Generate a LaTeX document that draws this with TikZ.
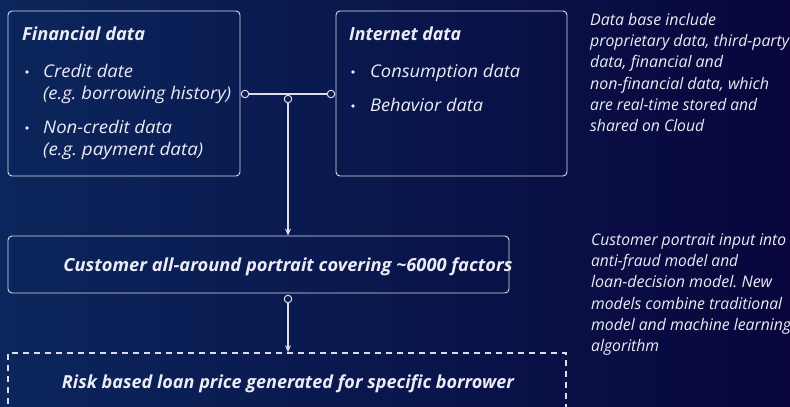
\documentclass[tikz,border=0pt]{standalone}
\usepackage{fontspec}
\usepackage{graphicx}
\setmainfont{Open Sans}
\frenchspacing
\usetikzlibrary{arrows.meta,calc}
\definecolor{bgA}{RGB}{11,38,92}
\definecolor{bgB}{RGB}{8,6,60}
\definecolor{ink}{RGB}{236,236,246}
\definecolor{wire}{RGB}{220,220,234}
% set a line of text to a given width (pt), keeping its height
\newcommand\fitto[2]{\resizebox{#1pt}{\height}{#2}}
\tikzset{
  card/.style={draw=wire,line width=0.9pt,rounded corners=4pt,inner sep=0pt},
  dropbox/.style={draw=wire,line width=1.6pt,dash pattern=on 6pt off 5pt,inner sep=0pt},
  head/.style={text=ink,font=\fontsize{18}{21}\selectfont\bfseries\itshape,anchor=base west,inner sep=0pt},
  item/.style={text=ink,font=\fontsize{17.5}{22}\selectfont\itshape,anchor=base west,inner sep=0pt},
  bul/.style={circle,fill=ink,inner sep=0pt,minimum size=3.6pt},
  note/.style={text=ink,font=\fontsize{16}{21}\selectfont\itshape,anchor=base west,inner sep=0pt},
  lead/.style={text=ink,font=\fontsize{18}{21}\selectfont\bfseries\itshape,anchor=base,inner sep=0pt},
  port/.style={circle,draw=wire,line width=1pt,fill=bgA!70!bgB,inner sep=0pt,minimum size=7.5pt},
  wire/.style={draw=wire,line width=1.1pt},
  flow/.style={wire,-{Stealth[length=7pt,width=6pt]}}
}
\begin{document}
\begin{tikzpicture}[x=1pt,y=-1pt]
  % background
  \shade[shading angle=300,left color=bgA,right color=bgB] (0,0) rectangle (790,407);
  \useasboundingbox (0,0) rectangle (790,407);

  % data source cards
  \node[card,minimum width=232pt,minimum height=165pt] (fin) at (124,93.5) {};
  \node[card,minimum width=231pt,minimum height=165pt] (net) at (451.5,93.5) {};

  \node[head] (finh) at (22,40) {\fitto{123}{Financial data}};
  \node[bul] (fb1) at (27,72) {};
  \node[item] (fi1) at (43,77.5) {\fitto{90}{Credit date}};
  \node[item] (fi1b) at (43,99.5) {\fitto{188}{(e.g. borrowing history)}};
  \node[bul] (fb2) at (27,128) {};
  \node[item] (fi2) at (43,133.5) {\fitto{129}{Non-credit data}};
  \node[item] (fi2b) at (43,155.5) {\fitto{160}{(e.g. payment data)}};

  \node[head] (neth) at (349,40) {\fitto{112}{Internet data}};
  \node[bul] (nb1) at (353,72) {};
  \node[item] (ni1) at (370,77.5) {\fitto{150}{Consumption data}};
  \node[bul] (nb2) at (353,106) {};
  \node[item] (ni2) at (370,111.5) {\fitto{113}{Behavior data}};

  % portrait and pricing
  \node[card,minimum width=501pt,minimum height=57pt] (cust) at (258.5,264.5) {};
  \node[lead] (custt) at (288,271) {\fitto{449}{Customer all-around portrait covering \textasciitilde6000 factors}};
  \node[dropbox,minimum width=558pt,minimum height=60pt] (risk) at (287,383) {};
  \node[lead] (riskt) at (288,388.5) {\fitto{452}{Risk based loan price generated for specific borrower}};

  % side notes
  \node[note] (na1) at (590,25.5) {\fitto{126}{Data base include}};
  \node[note] (na2) at (590,46.7) {\fitto{199}{proprietary data, third-party}};
  \node[note] (na3) at (590,67.9) {\fitto{133}{data, financial and}};
  \node[note] (na4) at (590,89.1) {\fitto{179}{non-financial data, which}};
  \node[note] (na5) at (590,110.3) {\fitto{167}{are real-time stored and}};
  \node[note] (na6) at (590,131.5) {\fitto{114}{shared on Cloud}};

  \node[note] (nb1t) at (591,245.5) {\fitto{195}{Customer portrait input into}};
  \node[note] (nb2t) at (591,266.7) {\fitto{147}{anti-fraud model and}};
  \node[note] (nb3t) at (591,287.9) {\fitto{181}{loan-decision model. New}};
  \node[note] (nb4t) at (591,309.1) {\fitto{191}{models combine traditional}};
  \node[note] (nb5t) at (591,330.3) {\fitto{200}{model and machine learning}};
  \node[note] (nb6t) at (591,351.5) {\fitto{68}{algorithm}};

  % connectors
  \node[port] (pf) at (245,94) {};
  \node[port] (pn) at (331,94) {};
  \node[port] (pj) at (288,99) {};
  \node[port] (pc) at (288,299) {};
  \draw[wire] (pf.east) -- (pn.west);
  \draw[flow] (pj.south) -- (pj.south |- cust.north);
  \draw[flow] (pc.south) -- (pc.south |- risk.north);
\end{tikzpicture}
\end{document}
